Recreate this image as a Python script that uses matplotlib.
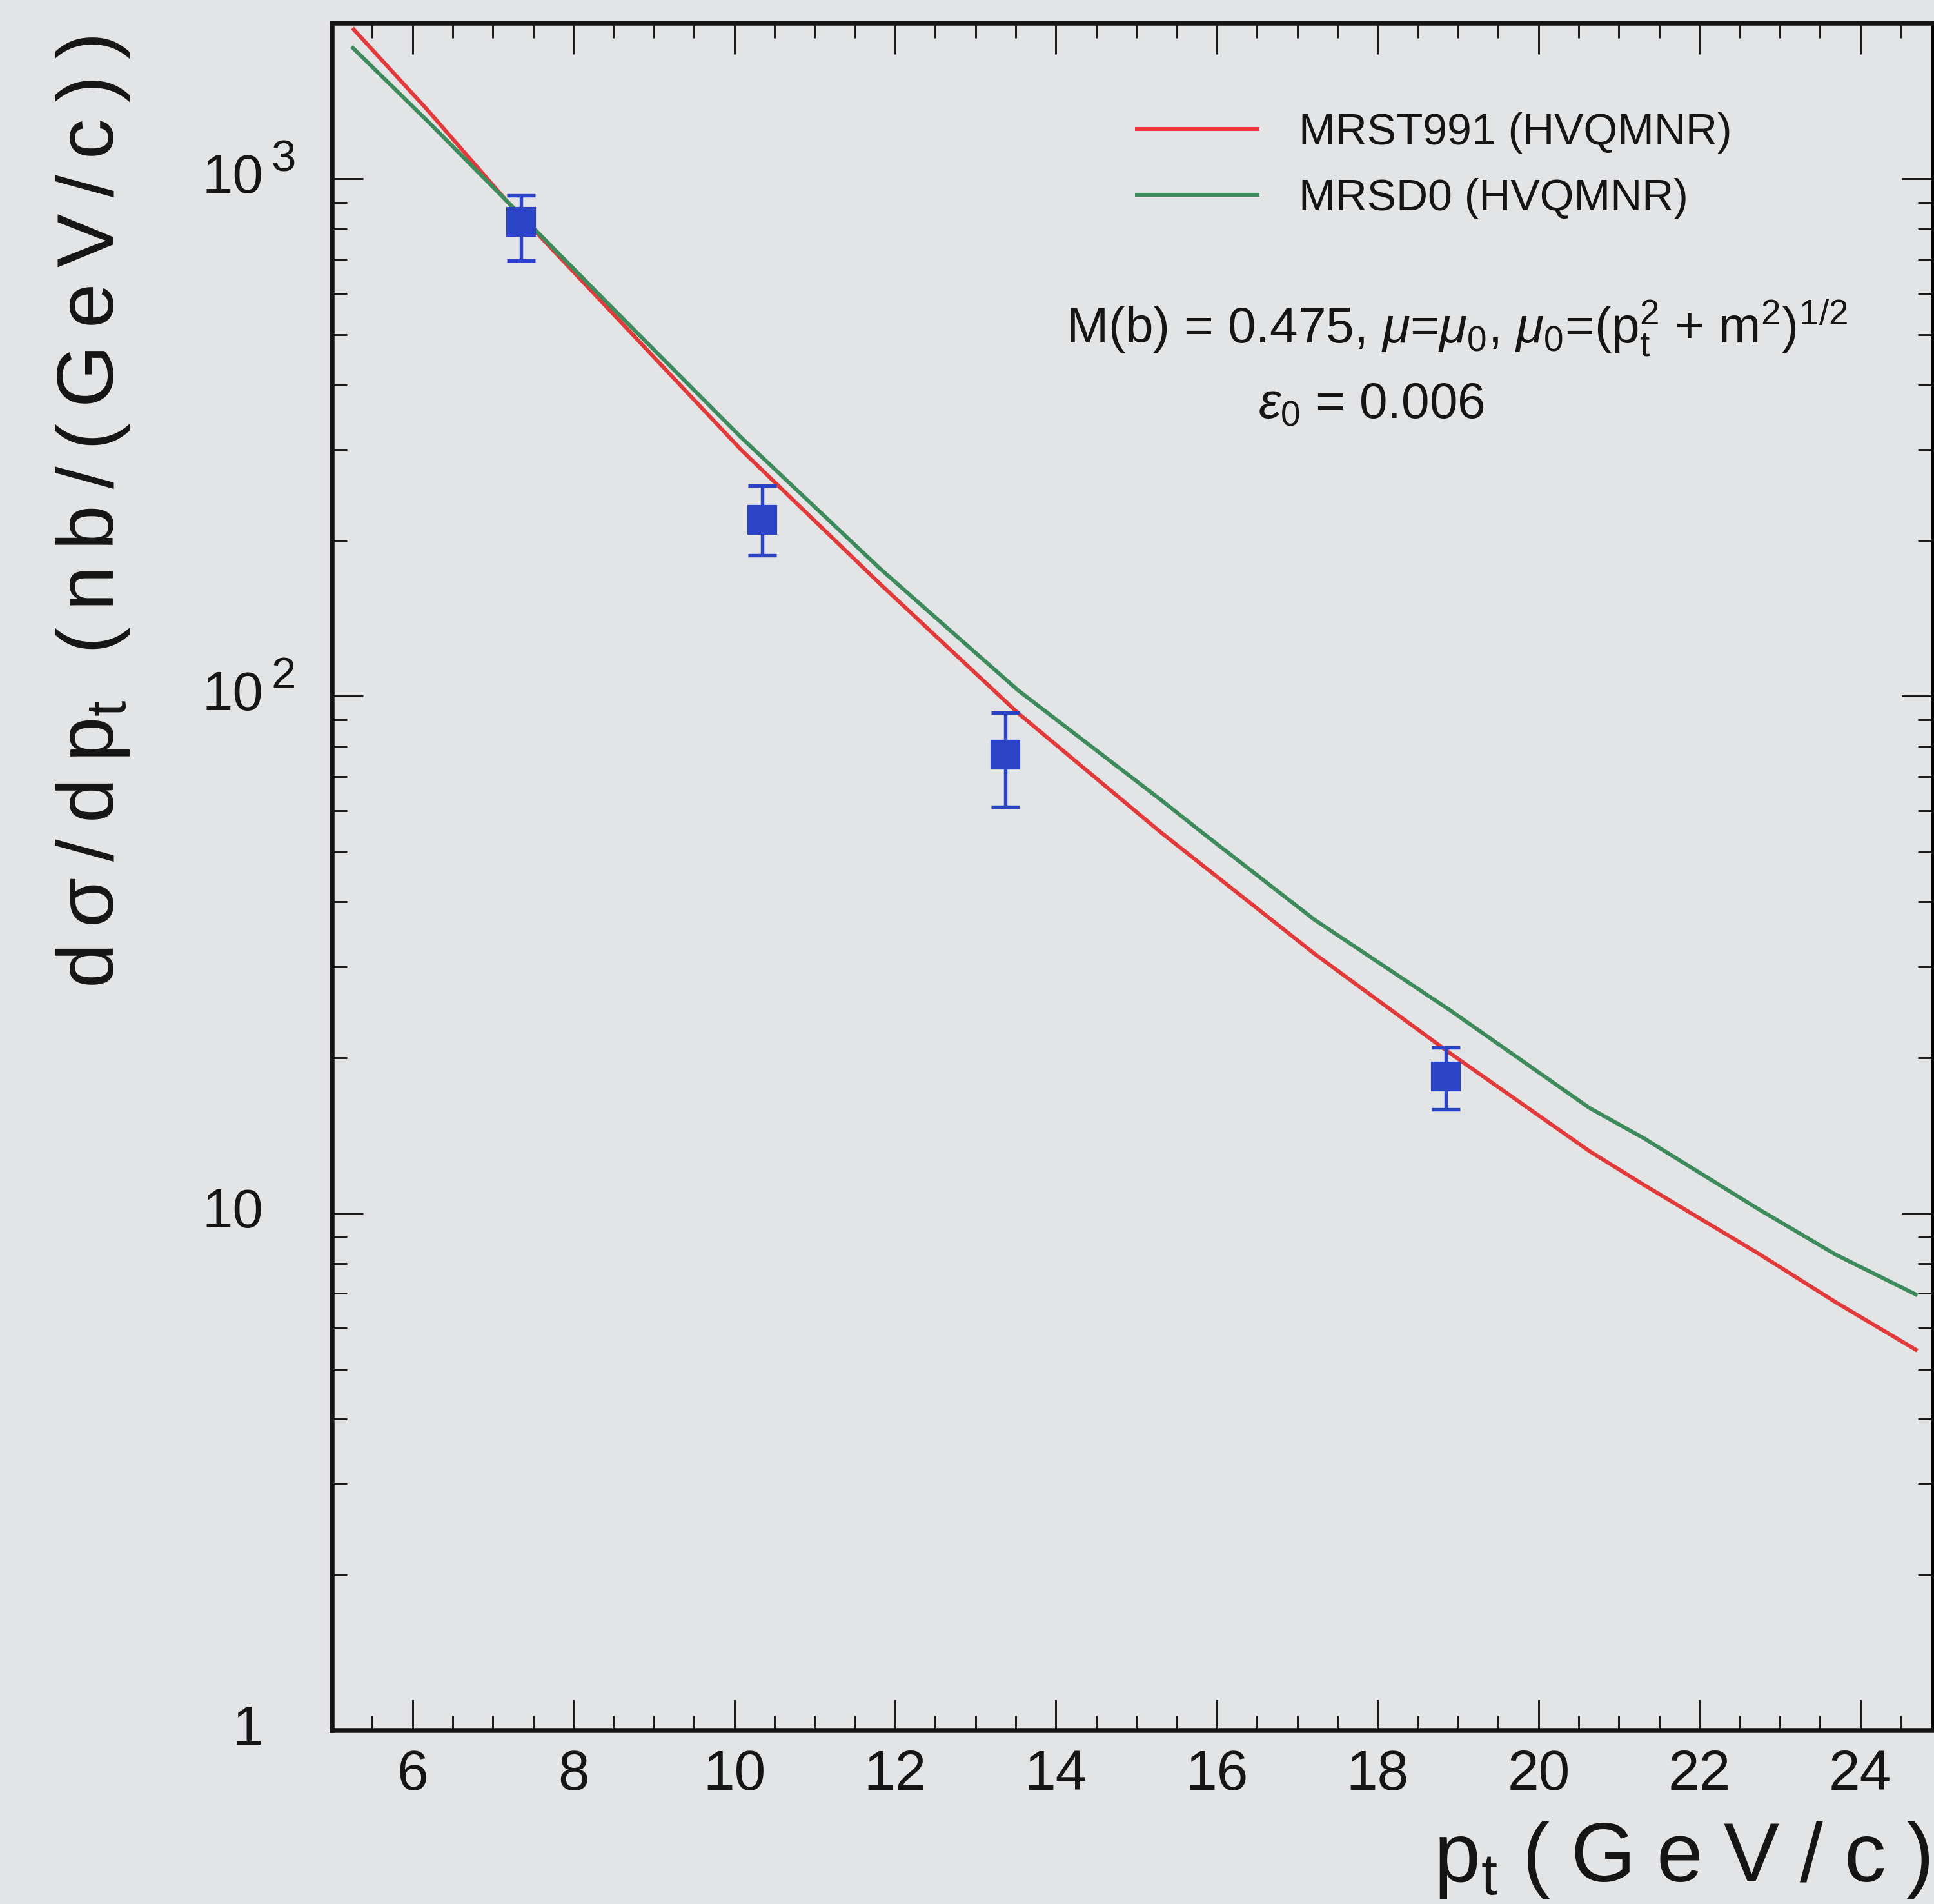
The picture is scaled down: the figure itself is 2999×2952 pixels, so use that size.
import matplotlib
matplotlib.use('Agg')
import matplotlib.pyplot as plt
import matplotlib.transforms as mtransforms
from matplotlib.ticker import LogLocator, MultipleLocator, NullFormatter

# データ: 測定点
pt_data = [7.35, 10.35, 13.37, 18.85]
xs_data = [826, 219, 77, 18.4]
err_lo = [130, 32, 16, 2.5]
err_hi = [104, 36, 16, 2.5]

# 理論曲線 (読み取り値)
pt_red = [5.27, 6.2, 7.17, 8.55, 10.09, 11.81, 13.53, 15.30, 15.83, 17.21,
          18.90, 20.63, 21.31, 22.73, 23.69, 24.69]
xs_red = [1945, 1352, 907, 537, 299, 165, 92.7, 54.6, 47.0, 31.8,
          20.4, 13.2, 11.35, 8.37, 6.74, 5.45]
pt_green = [5.26, 6.2, 7.17, 8.55, 10.09, 11.81, 13.53, 15.30, 15.83, 17.21,
            18.90, 20.63, 21.31, 22.73, 23.69, 24.69]
xs_green = [1791, 1288, 907, 550, 316, 176.6, 102.6, 63.1, 54.3, 37.0,
            24.7, 16.0, 13.97, 10.2, 8.33, 6.97]

label_red = 'MRST991 (HVQMNR)'
label_green = 'MRSD0 (HVQMNR)'

ytick_vals = [1, 10, 100, 1000]
ytick_base = ['1', '10', '10', '10']
ytick_exp = ['', '', '2', '3']

bg = '#e3e4e6'
ink = '#151515'
sp = '\u2009'  # 字間用の細いスペース

plt.rcParams['font.family'] = ['Liberation Sans', 'DejaVu Sans']
plt.rcParams['mathtext.fontset'] = 'custom'
plt.rcParams['mathtext.rm'] = 'Liberation Sans'
plt.rcParams['mathtext.it'] = 'Liberation Sans:italic'
plt.rcParams['mathtext.bf'] = 'Liberation Sans:bold'

fig = plt.figure(figsize=(2999 / 300, 2952 / 300), dpi=300, facecolor=bg)
ax = fig.add_axes([0.1717, 0.0911, 0.9993 - 0.1717, 0.9878 - 0.0911], facecolor=bg)

ax.plot(pt_red, xs_red, color='#e23a3a', lw=1.45, label=label_red)
ax.plot(pt_green, xs_green, color='#3d8a5c', lw=1.45, label=label_green)
ax.errorbar(pt_data, xs_data, yerr=[err_lo, err_hi], fmt='s', color='#2b43c6',
            ms=10, capsize=5.3, elinewidth=1.3, capthick=1.3, zorder=5)

ax.set_yscale('log')
ax.set_xlim(5, 24.9)
ax.set_ylim(1, 2000)

# 目盛り
ax.xaxis.set_major_locator(MultipleLocator(2))
ax.xaxis.set_minor_locator(MultipleLocator(0.5))
ax.yaxis.set_major_locator(LogLocator(base=10, numticks=10))
ax.yaxis.set_minor_locator(LogLocator(base=10, subs=range(2, 10), numticks=20))
ax.yaxis.set_major_formatter(NullFormatter())
ax.yaxis.set_minor_formatter(NullFormatter())
ax.tick_params(which='both', direction='in', top=True, right=True, color=ink, width=0.7)
ax.tick_params(which='major', length=11.5)
ax.tick_params(which='minor', length=5.5)
ax.tick_params(axis='x', which='major', labelsize=21, pad=7, labelcolor=ink)
for s in ['left', 'bottom', 'top']:
    ax.spines[s].set_linewidth(1.8)
    ax.spines[s].set_color(ink)
ax.spines['right'].set_linewidth(1.0)

# y軸ラベル (10^n 形式)
trans = mtransforms.blended_transform_factory(ax.transAxes, ax.transData)
for v, b, e in zip(ytick_vals, ytick_base, ytick_exp):
    ax.text(-0.043, v, b, transform=trans, ha='right', va='center',
            fontsize=20.5, color=ink)
    if e:
        ax.text(-0.038, v * 1.035, e, transform=trans, ha='left', va='baseline',
                fontsize=16.5, color=ink)

# 軸タイトル
ylab = sp.join('dσ/d') + sp + r'p$_{\mathregular{t}}$' + '  ' + sp.join('(nb/(GeV/c))')
fig.text(0.048, 0.981, ylab, rotation=90, ha='center', va='top', fontsize=30, color=ink)
xlab = r'p$_{\mathregular{t}}$' + ' ' + '\u2005'.join('(GeV/c)')
fig.text(0.998, 0.002, xlab, ha='right', va='bottom', fontsize=31, color=ink)

# 凡例
leg = ax.legend(loc='upper left', bbox_to_anchor=(0.5028, 0.948), frameon=False,
                fontsize=16.3, handlelength=2.75, handletextpad=0.95, borderpad=0,
                borderaxespad=0, labelspacing=0.56)
for t in leg.get_texts():
    t.set_color(ink)

ax.text(0.7027, 0.8215,
        r'M(b) = 0.475, $\mu$=$\mu_{\mathregular{0}}$, $\mu_{\mathregular{0}}$=(p$_{\mathregular{t}}^{\mathregular{2}}$ + m$^{\mathregular{2}}$)$^{\mathregular{1/2}}$',
        transform=ax.transAxes, ha='center', va='center', fontsize=18.8, color=ink)
ax.text(0.6495, 0.7765, r'$\varepsilon_{\mathregular{0}}$ = 0.006',
        transform=ax.transAxes, ha='center', va='center', fontsize=18.8, color=ink)

fig.savefig('out.png', dpi=300, facecolor=bg)
